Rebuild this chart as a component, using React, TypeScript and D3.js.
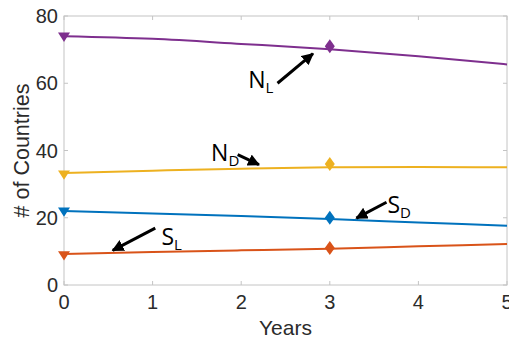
import React from "react";
import * as d3 from "d3";

const years = [0, 1, 2, 3, 4, 5];
const nL = [74, 73.2, 71.7, 70.1, 68.0, 65.6];
const nD = [33.3, 34.0, 34.6, 35.0, 35.1, 35.0];
const sD = [22, 21.3, 20.5, 19.6, 18.6, 17.6];
const sL = [9.2, 9.8, 10.3, 10.8, 11.5, 12.2];

const startX = 0;
const startVals = [74, 33, 22, 9];
const obsX = 3;
const obsVals = [71, 36, 20, 11];

const seriesNames = ["N", "N", "S", "S"];
const seriesSubs = ["L", "D", "D", "L"];
const colors = ["#7E2F8E", "#EDB120", "#0072BD", "#D95319"];
const xTicks = [0, 1, 2, 3, 4, 5];
const yTicks = [0, 20, 40, 60, 80];

// annotation: label position, arrow tail, arrow head (data units)
const annots = [
  { lx: 2.08, ly: 58.5, tx: 2.41, ty: 60, hx: 2.81, hy: 68.8 },
  { lx: 1.66, ly: 37, tx: 1.96, ty: 38.8, hx: 2.2, hy: 35.8 },
  { lx: 3.65, ly: 21.5, tx: 3.64, ty: 24.6, hx: 3.3, hy: 19.9 },
  { lx: 1.1, ly: 12, tx: 1.03, ty: 16.9, hx: 0.55, hy: 10.3 },
];

const W = 509;
const H = 341;
const m = { left: 64, right: 2, top: 16, bottom: 56 };

export default function App() {
  const x = d3.scaleLinear().domain([0, 5]).range([m.left, W - m.right]);
  const y = d3.scaleLinear().domain([0, 80]).range([H - m.bottom, m.top]);
  const line = d3
    .line<number>()
    .x((_, i) => x(years[i]))
    .y((d) => y(d))
    .curve(d3.curveMonotoneX);
  const all = [nL, nD, sD, sL];
  const axisCol = "#c4c4c4";
  const textCol = "#2b2b2b";
  const font = "Liberation Sans, Arial, Helvetica, sans-serif";
  const annFont = "Open Sans, Lato, sans-serif";
  const tri = (cx: number, cy: number) => {
    const s = 6;
    return `M${cx - s},${cy - s * 0.6}L${cx + s},${cy - s * 0.6}L${cx},${cy + s * 0.95}Z`;
  };
  const dia = (cx: number, cy: number) => {
    const w = 5, h = 7;
    return `M${cx},${cy - h}L${cx + w},${cy}L${cx},${cy + h}L${cx - w},${cy}Z`;
  };
  const x0 = m.left, x1 = W - m.right, y0 = H - m.bottom, y1 = m.top;
  return (
    <svg
      width={W}
      height={H}
      style={{ position: "absolute", left: 0, top: 0 }}
    >
      <defs>
        <marker
          id="ah"
          viewBox="0 0 10 10"
          refX="9"
          refY="5"
          markerWidth="4"
          markerHeight="4"
          orient="auto"
        >
          <path d="M0,0L10,5L0,10Z" fill="#000" />
        </marker>
      </defs>
      <rect x={0} y={0} width={W} height={H} fill="#fff" />
      <rect
        x={x0}
        y={y1}
        width={x1 - x0}
        height={y0 - y1}
        fill="none"
        stroke={axisCol}
        strokeWidth={1}
      />
      {xTicks.map((t) => (
        <g key={"xt" + t}>
          <line x1={x(t)} x2={x(t)} y1={y0} y2={y0 - 4} stroke={axisCol} />
          <line x1={x(t)} x2={x(t)} y1={y1} y2={y1 + 4} stroke={axisCol} />
          <text
            x={x(t)}
            y={y0 + 24}
            textAnchor="middle"
            fontSize={20}
            fontFamily={font}
            fill={textCol}
          >
            {t}
          </text>
        </g>
      ))}
      {yTicks.map((t) => (
        <g key={"yt" + t}>
          <line x1={x0} x2={x0 + 4} y1={y(t)} y2={y(t)} stroke={axisCol} />
          <line x1={x1} x2={x1 - 4} y1={y(t)} y2={y(t)} stroke={axisCol} />
          <text
            x={x0 - 6}
            y={y(t) + 7}
            textAnchor="end"
            fontSize={20}
            fontFamily={font}
            fill={textCol}
          >
            {t}
          </text>
        </g>
      ))}
      <text
        x={(x0 + x1) / 2}
        y={H - 6}
        textAnchor="middle"
        fontSize={21}
        fontFamily={font}
        fill={textCol}
      >
        Years
      </text>
      <text
        transform={`translate(29,${(y0 + y1) / 2}) rotate(-90)`}
        textAnchor="middle"
        fontSize={21.5}
        fontFamily={font}
        fill={textCol}
      >
        # of Countries
      </text>
      {all.map((vals, i) => (
        <path
          key={"l" + i}
          d={line(vals) || ""}
          fill="none"
          stroke={colors[i]}
          strokeWidth={2}
        />
      ))}
      {startVals.map((v, i) => (
        <path key={"tr" + i} d={tri(x(startX), y(v))} fill={colors[i]} />
      ))}
      {obsVals.map((v, i) => (
        <path key={"di" + i} d={dia(x(obsX), y(v))} fill={colors[i]} />
      ))}
      {annots.map((a, i) => (
        <g key={"a" + i}>
          <line
            x1={x(a.tx)}
            y1={y(a.ty)}
            x2={x(a.hx)}
            y2={y(a.hy)}
            stroke="#000"
            strokeWidth={3}
            markerEnd="url(#ah)"
          />
          <text
            x={x(a.lx)}
            y={y(a.ly)}
            fontSize={23}
            fontFamily={annFont}
            fill="#000"
          >
            {seriesNames[i]}
            <tspan fontSize={15} dy={5}>
              {seriesSubs[i]}
            </tspan>
          </text>
        </g>
      ))}
    </svg>
  );
}
